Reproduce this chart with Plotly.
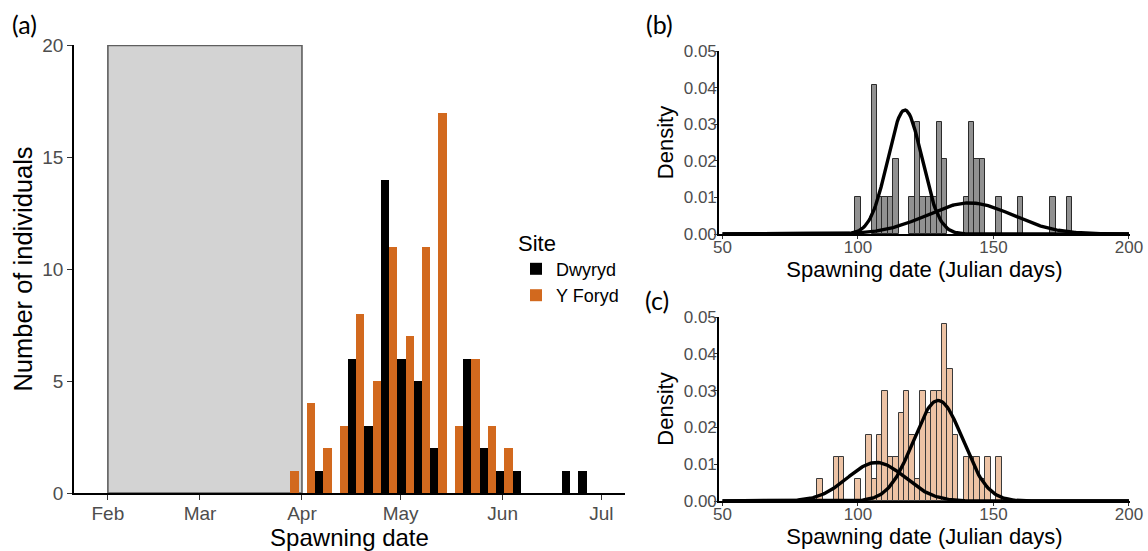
import numpy as np
import plotly.graph_objects as go

# ---------------- Panel (a): counts per 5-day bin ----------------
bin_centers_a = [87.5, 92.5, 97.5, 102.5, 107.5, 112.5, 117.5, 122.5, 127.5, 132.5,
                 137.5, 142.5, 147.5, 152.5, 157.5, 162.5, 167.5, 172.5, 177.5]
dwyryd_counts = [0, 0, 1, 0, 6, 3, 14, 6, 5, 2, 0, 6, 2, 1, 1, 0, 0, 1, 1]
yforyd_counts = [1, 4, 2, 3, 8, 5, 11, 7, 11, 17, 3, 6, 3, 2, 0, 0, 0, 0, 0]
month_tick_days = [32, 60, 91, 121, 152, 182]
month_tick_labels = ["Feb", "Mar", "Apr", "May", "Jun", "Jul"]
shade_start, shade_end, shade_top = 32, 91, 20

# ---------------- Panel (b): Dwyryd density histogram ----------------
b_bins = [100, 106, 108, 110, 112, 114, 120, 122, 124, 126, 128, 130, 132,
          140, 142, 144, 146, 152, 160, 172, 178]
b_density = [0.0102, 0.0408, 0.0102, 0.0102, 0.0102, 0.0204, 0.0102, 0.0306, 0.0102,
             0.0102, 0.0102, 0.0306, 0.0204, 0.0102, 0.0306, 0.0204, 0.0204,
             0.0102, 0.0102, 0.0102, 0.0102]
b_means = [117.3, 141.2]
b_sds = [6.3, 15.9]
b_weights = [0.535, 0.338]

# ---------------- Panel (c): Y Foryd density histogram ----------------
c_bins = [86, 92, 94, 100, 104, 106, 108, 110, 112, 114, 116, 118, 120, 122, 124,
          126, 128, 130, 132, 134, 136, 140, 142, 144, 146, 148, 152]
c_density = [0.006, 0.012, 0.012, 0.006, 0.018, 0.006, 0.018, 0.030, 0.012, 0.012,
             0.024, 0.030, 0.018, 0.006, 0.030, 0.024, 0.030, 0.030, 0.048, 0.036,
             0.018, 0.012, 0.012, 0.012, 0.006, 0.012, 0.012]
c_means = [106.8, 129.6]
c_sds = [10.6, 9.1]
c_weights = [0.278, 0.623]

julian_grid = np.arange(50, 200.5, 0.5)

ORANGE = "#D2691E"
FONT = "Liberation Sans, Arial, sans-serif"
TICK_GREY = "#4D4D4D"

fig = go.Figure()

# Panel (a)
fig.add_trace(go.Bar(x=bin_centers_a, y=dwyryd_counts, name="Dwyryd",
                     marker=dict(color="black", line=dict(width=0)),
                     xaxis="x", yaxis="y"))
fig.add_trace(go.Bar(x=bin_centers_a, y=yforyd_counts, name="Y Foryd",
                     marker=dict(color=ORANGE, line=dict(width=0)),
                     xaxis="x", yaxis="y"))

# Panel (b)
fig.add_trace(go.Bar(x=b_bins, y=b_density, width=2, showlegend=False,
                     marker=dict(color="rgba(0,0,0,0.43)", line=dict(color="#2b2b2b", width=1)),
                     xaxis="x2", yaxis="y2"))
for m, s, w in zip(b_means, b_sds, b_weights):
    yv = w * np.exp(-0.5 * ((julian_grid - m) / s) ** 2) / (s * np.sqrt(2 * np.pi))
    fig.add_trace(go.Scatter(x=julian_grid, y=yv, mode="lines", showlegend=False,
                             line=dict(color="black", width=3.4), xaxis="x2", yaxis="y2"))

# Panel (c)
fig.add_trace(go.Bar(x=c_bins, y=c_density, width=2, showlegend=False,
                     marker=dict(color="rgba(210,105,30,0.4)", line=dict(color="#3a3a3a", width=1)),
                     xaxis="x3", yaxis="y3"))
for m, s, w in zip(c_means, c_sds, c_weights):
    yv = w * np.exp(-0.5 * ((julian_grid - m) / s) ** 2) / (s * np.sqrt(2 * np.pi))
    fig.add_trace(go.Scatter(x=julian_grid, y=yv, mode="lines", showlegend=False,
                             line=dict(color="black", width=3.4), xaxis="x3", yaxis="y3"))

W, H = 1148, 551
def dx(a, b):
    return [a / W, b / W]
def dy(top, bottom):
    return [1 - bottom / H, 1 - top / H]

axis_common = dict(showline=True, linecolor="black", linewidth=1.6, ticks="outside",
                   ticklen=5, tickwidth=1.2, tickcolor="#333333", showgrid=False,
                   zeroline=False, automargin=False)
small_axis = dict(axis_common, ticklen=3, ticklabelstandoff=-6)

panel_label_font = dict(family="Lato, sans-serif", size=25, color="black")

fig.update_layout(
    width=W, height=H,
    margin=dict(l=0, r=0, t=0, b=0),
    paper_bgcolor="white", plot_bgcolor="white",
    barmode="group", bargap=0, bargroupgap=0,
    font=dict(family=FONT, color="black"),
    shapes=[dict(type="rect", xref="x", yref="y", x0=shade_start, x1=shade_end,
                 y0=0, y1=shade_top, fillcolor="#D3D3D3",
                 line=dict(color="#5f5f5f", width=1.6), layer="below")],
    legend=dict(title=dict(text="Site", font=dict(size=22, family=FONT)),
                font=dict(size=18, family=FONT),
                x=516 / W, y=1 - 222 / H, xanchor="left", yanchor="top",
                bgcolor="rgba(0,0,0,0)", tracegroupgap=0, itemsizing="constant"),
    xaxis=dict(axis_common, domain=dx(74, 625), range=[21.7, 189.2],
               tickvals=month_tick_days, ticktext=month_tick_labels,
               tickfont=dict(size=19, color=TICK_GREY), ticklabelstandoff=-3,
               title=dict(text="Spawning date", font=dict(size=24), standoff=5),
               anchor="y"),
    yaxis=dict(axis_common, domain=dy(45, 493), range=[0, 20.02],
               tickvals=[0, 5, 10, 15, 20],
               tickfont=dict(size=19, color=TICK_GREY),
               title=dict(text="Number of individuals", font=dict(size=25.5), standoff=2),
               anchor="x"),
    xaxis2=dict(small_axis, domain=dx(719, 1130), range=[48.7, 200.4],
                tickvals=[50, 100, 150, 200],
                tickfont=dict(size=17, color=TICK_GREY),
                title=dict(text="Spawning date (Julian days)", font=dict(size=22), standoff=2),
                anchor="y2"),
    yaxis2=dict(small_axis, domain=dy(51, 234), range=[0, 0.05],
                tickvals=[0, 0.01, 0.02, 0.03, 0.04, 0.05], tickformat=".2f",
                tickfont=dict(size=17, color=TICK_GREY),
                title=dict(text="Density", font=dict(size=22), standoff=4),
                anchor="x2"),
    xaxis3=dict(small_axis, domain=dx(719, 1130), range=[48.7, 200.4],
                tickvals=[50, 100, 150, 200],
                tickfont=dict(size=17, color=TICK_GREY),
                title=dict(text="Spawning date (Julian days)", font=dict(size=22), standoff=4),
                anchor="y3"),
    yaxis3=dict(small_axis, domain=dy(317, 501), range=[0, 0.05],
                tickvals=[0, 0.01, 0.02, 0.03, 0.04, 0.05], tickformat=".2f",
                tickfont=dict(size=17, color=TICK_GREY),
                title=dict(text="Density", font=dict(size=22), standoff=4),
                anchor="x3"),
    annotations=[
        dict(text="(a)", x=24 / W, y=1 - 24 / H, xref="paper", yref="paper",
             xanchor="center", yanchor="middle", showarrow=False, font=panel_label_font),
        dict(text="(b)", x=659 / W, y=1 - 24 / H, xref="paper", yref="paper",
             xanchor="center", yanchor="middle", showarrow=False, font=panel_label_font),
        dict(text="(c)", x=657 / W, y=1 - 300 / H, xref="paper", yref="paper",
             xanchor="center", yanchor="middle", showarrow=False, font=panel_label_font),
    ],
)

fig.write_html("out.html", config={"displayModeBar": False},
               post_script="document.body.style.margin='0px';document.body.style.overflow='hidden';")
